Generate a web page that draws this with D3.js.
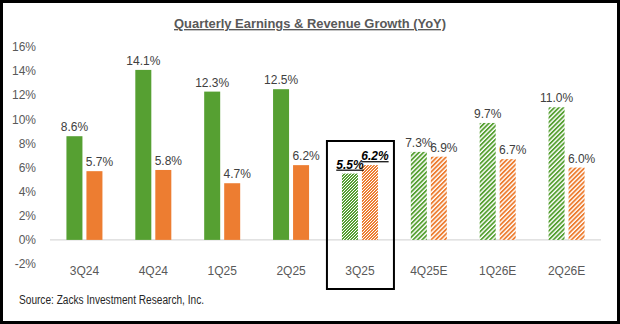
<!DOCTYPE html>
<html>
<head>
<meta charset="utf-8">
<style>
  html, body { margin: 0; padding: 0; background: #fff; }
  svg { display: block; }
</style>
</head>
<body>
<div id="chart"></div>
<script src="https://cdn.jsdelivr.net/npm/d3@7/dist/d3.min.js"></script>
<script>
// data
const quarters = ["3Q24", "4Q24", "1Q25", "2Q25", "3Q25", "4Q25E", "1Q26E", "2Q26E"];
const earnings = [8.6, 14.1, 12.3, 12.5, 5.5, 7.3, 9.7, 11.0];
const revenue  = [5.7, 5.8, 4.7, 6.2, 6.2, 6.9, 6.7, 6.0];
const status   = ["actual", "actual", "actual", "actual", "current", "estimate", "estimate", "estimate"];
const yTicks   = [-2, 0, 2, 4, 6, 8, 10, 12, 14, 16];

const width = 620, height = 324;
const green = "#56a032", orange = "#ed7d31";

const svg = d3.select("#chart").append("svg")
  .attr("width", width)
  .attr("height", height)
  .style("font-family", "'Liberation Sans', Arial, sans-serif");

// patterns for the current quarter and the estimates
const defs = svg.append("defs");
function stripes(id, color) {
  const p = defs.append("pattern")
    .attr("id", id)
    .attr("patternUnits", "userSpaceOnUse")
    .attr("width", 3.2).attr("height", 3.2)
    .attr("patternTransform", "rotate(45)");
  p.append("rect").attr("width", 3.2).attr("height", 3.2).attr("fill", "#fff");
  p.append("rect").attr("width", 1.8).attr("height", 3.2).attr("fill", color);
}
function dots(id, color) {
  const p = defs.append("pattern")
    .attr("id", id)
    .attr("patternUnits", "userSpaceOnUse")
    .attr("width", 3).attr("height", 3);
  p.append("rect").attr("width", 3).attr("height", 3).attr("fill", color);
  p.append("rect").attr("x", 0).attr("y", 0).attr("width", 1).attr("height", 1).attr("fill", "#fff");
  p.append("rect").attr("x", 2).attr("y", 1).attr("width", 1).attr("height", 1).attr("fill", "#fff");
  p.append("rect").attr("x", 1).attr("y", 2).attr("width", 1).attr("height", 1).attr("fill", "#fff");
  p.selectAll("rect").attr("shape-rendering", "crispEdges");
}
stripes("stripeGreen", green);
stripes("stripeOrange", orange);
dots("dotGreen", green);
dots("dotOrange", orange);

// outer frame
svg.append("rect")
  .attr("x", 1.5).attr("y", 1.5)
  .attr("width", width - 3).attr("height", height - 3)
  .attr("fill", "none").attr("stroke", "#000").attr("stroke-width", 3);

// title
svg.append("text")
  .attr("x", 310).attr("y", 28)
  .attr("text-anchor", "middle")
  .attr("fill", "#595959")
  .attr("textLength", 272)
  .attr("lengthAdjust", "spacingAndGlyphs")
  .style("font-size", "13.5px")
  .style("font-weight", "bold")
  .style("text-decoration", "underline")
  .text("Quarterly Earnings & Revenue Growth (YoY)");

const x = d3.scaleBand().domain(quarters).range([50, 601]);
const sub = d3.scaleBand().domain(["earn", "rev"]).range([-18, 18]).paddingInner(0.2);
const y = d3.scaleLinear().domain([-2, 16]).range([264, 47]);

// y tick labels
svg.append("g")
  .selectAll("text")
  .data(yTicks)
  .join("text")
  .attr("x", 36)
  .attr("y", d => y(d))
  .attr("dy", "0.35em")
  .attr("text-anchor", "end")
  .attr("fill", "#595959")
  .style("font-size", "12px")
  .text(d => d + "%");

// zero line
svg.append("line")
  .attr("x1", 50).attr("x2", 601)
  .attr("y1", y(0)).attr("y2", y(0))
  .attr("stroke", "#d9d9d9").attr("stroke-width", 1.3);

const rows = quarters.map((q, i) => ({ q, i, earn: earnings[i], rev: revenue[i], status: status[i] }));

function fillFor(d, key) {
  const c = key === "earn" ? "Green" : "Orange";
  if (d.status === "estimate") return "url(#stripe" + c + ")";
  if (d.status === "current") return "url(#dot" + c + ")";
  return key === "earn" ? green : orange;
}

const bars = [];
rows.forEach(d => {
  bars.push({ d, key: "earn", v: d.earn });
  bars.push({ d, key: "rev", v: d.rev });
});

svg.append("g")
  .selectAll("rect")
  .data(bars)
  .join("rect")
  .attr("x", b => x(b.d.q) + x.bandwidth() / 2 + sub(b.key))
  .attr("y", b => y(b.v))
  .attr("width", sub.bandwidth())
  .attr("height", b => y(0) - y(b.v))
  .attr("fill", b => fillFor(b.d, b.key));

// value labels
svg.append("g")
  .selectAll("text")
  .data(bars)
  .join("text")
  .attr("x", b => x(b.d.q) + x.bandwidth() / 2 + sub(b.key) + sub.bandwidth() / 2 + (b.key === "rev" ? 5 : 0))
  .attr("y", b => y(b.v) - 5)
  .attr("text-anchor", "middle")
  .attr("fill", b => b.d.status === "current" ? "#000" : "#404040")
  .style("font-size", "12px")
  .style("font-weight", b => b.d.status === "current" ? "bold" : "normal")
  .style("font-style", b => b.d.status === "current" ? "italic" : "normal")
  .style("text-decoration", b => b.d.status === "current" ? "underline" : "none")
  .text(b => b.v.toFixed(1) + "%");

// category labels
svg.append("g")
  .selectAll("text")
  .data(quarters)
  .join("text")
  .attr("x", q => x(q) + x.bandwidth() / 2)
  .attr("y", 275)
  .attr("text-anchor", "middle")
  .attr("fill", "#595959")
  .style("font-size", "12px")
  .text(q => q);

// box around the current quarter
const cur = quarters[status.indexOf("current")];
svg.append("rect")
  .attr("x", x(cur) + x.bandwidth() / 2 - 33)
  .attr("y", 141)
  .attr("width", 67)
  .attr("height", 148)
  .attr("fill", "none")
  .attr("stroke", "#000")
  .attr("stroke-width", 2);

// source
svg.append("text")
  .attr("x", 19).attr("y", 304)
  .attr("fill", "#262626")
  .attr("textLength", 185)
  .attr("lengthAdjust", "spacingAndGlyphs")
  .style("font-size", "12px")
  .text("Source: Zacks Investment Research, Inc.");
</script>
</body>
</html>
